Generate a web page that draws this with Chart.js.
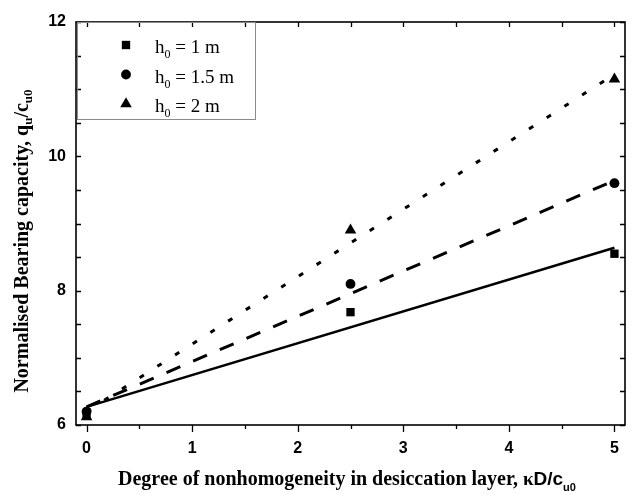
<!DOCTYPE html>
<html>
<head>
<meta charset="utf-8">
<script src="https://cdn.jsdelivr.net/npm/chart.js@4"></script>
<style>html,body{margin:0;padding:0;background:#fff;}canvas{display:block;}</style>
</head>
<body>
<canvas id="chart" width="634" height="500"></canvas>
<script>
// values
const kappa = [0, 2.5, 5];
const h1m = [6.15, 7.68, 8.55];
const h15m = [6.2, 8.1, 9.6];
const h2m = [6.12, 8.9, 11.15];
const fitRange = [0, 5];
const fit1m = [6.27, 8.64];
const fit15m = [6.27, 9.64];
const fit2m = [6.2, 11.22];
const seriesLabels = ['1 m', '1.5 m', '2 m'];
const xTicks = [0, 1, 2, 3, 4, 5];
const yTicks = [6, 8, 10, 12];

const serif = '"Liberation Serif", "Times New Roman", serif';
const sans = '"Liberation Sans", Arial, sans-serif';
const markers = ['rect', 'circle', 'triangle'];
const markerRadius = [5.9, 4.9, 6.7];
const pts = (xs, ys) => xs.map((x, i) => ({x, y: ys[i]}));

function drawMarker(ctx, style, r, x, y) {
    ctx.beginPath();
    if (style === 'rect') {
        const s = r / Math.SQRT2;
        ctx.rect(x - s, y - s, 2 * s, 2 * s);
    } else if (style === 'circle') {
        ctx.arc(x, y, r, 0, Math.PI * 2);
    } else {
        ctx.moveTo(x, y - r);
        ctx.lineTo(x + r * 0.866, y + r / 2);
        ctx.lineTo(x - r * 0.866, y + r / 2);
        ctx.closePath();
    }
    ctx.fill();
}

// draws text runs (with subscripts) centred on x
function drawRich(ctx, parts, x, y) {
    let total = 0;
    parts.forEach(p => { ctx.font = p.font; total += ctx.measureText(p.text).width; });
    let cx = x - total / 2;
    parts.forEach(p => {
        ctx.font = p.font;
        ctx.fillText(p.text, cx, y + (p.dy || 0));
        cx += ctx.measureText(p.text).width;
    });
}

const framePlugin = {
    id: 'frame',
    afterDraw(chart) {
        const {ctx, chartArea: a} = chart;
        const x = chart.scales.x, y = chart.scales.y;
        ctx.save();
        ctx.strokeStyle = '#000';
        ctx.fillStyle = '#000';

        // ticks: bottom outward, others inward
        ctx.lineWidth = 1.3;
        ctx.beginPath();
        for (let v = 0; v <= 5; v += 0.5) {
            const px = Math.round(x.getPixelForValue(v)) + 0.5;
            const major = v % 1 === 0;
            ctx.moveTo(px, a.bottom); ctx.lineTo(px, a.bottom + (major ? 7 : 4));
            ctx.moveTo(px, a.top); ctx.lineTo(px, a.top + 5);
        }
        for (let v = 6; v <= 12; v += 0.5) {
            const py = Math.round(y.getPixelForValue(v)) + 0.5;
            ctx.moveTo(a.left, py); ctx.lineTo(a.left + 5, py);
            ctx.moveTo(a.right, py); ctx.lineTo(a.right - 5, py);
        }
        ctx.stroke();
        ctx.lineWidth = 1.6;
        ctx.strokeRect(a.left, a.top, a.right - a.left, a.bottom - a.top);

        // legend box
        ctx.strokeStyle = '#8a8a8a';
        ctx.lineWidth = 1;
        ctx.strokeRect(a.left + 1.5, a.top + 0.5, 178, 97);
        ctx.textBaseline = 'alphabetic';
        ctx.textAlign = 'left';
        seriesLabels.forEach((lab, i) => {
            const ry = a.top + 23 + i * 29.5;
            drawMarker(ctx, markers[i], markerRadius[i], a.left + 50, ry);
            let tx = a.left + 79;
            ctx.font = '19px ' + serif;
            ctx.fillText('h', tx, ry + 8);
            tx += ctx.measureText('h').width;
            ctx.font = '12px ' + serif;
            ctx.fillText('0', tx, ry + 13);
            tx += ctx.measureText('0').width;
            ctx.font = '19px ' + serif;
            ctx.fillText(' = ' + lab, tx, ry + 8);
        });

        // axis titles
        const tf = 'bold 20px ' + serif, sf = 'bold 13px ' + serif;
        drawRich(ctx, [
            {text: 'Degree of nonhomogeneity in desiccation layer, ', font: tf},
            {text: '\u03ba', font: 'bold 19px ' + serif},
            {text: 'D/c', font: 'bold 19px ' + sans},
            {text: 'u0', font: 'bold 11px ' + sans, dy: 6}
        ], 347, 485);

        ctx.translate(28, 241);
        ctx.rotate(-Math.PI / 2);
        drawRich(ctx, [
            {text: 'Normalised Bearing capacity, q', font: tf},
            {text: 'u', font: sf, dy: 4},
            {text: '/c', font: tf},
            {text: 'u0', font: sf, dy: 4}
        ], 0, 0);
        ctx.restore();
    }
};

const pointSet = (ys, i) => ({
    type: 'scatter', data: pts(kappa, ys), showLine: false,
    pointStyle: markers[i], pointRadius: markerRadius[i],
    backgroundColor: '#000', borderColor: '#000', borderWidth: 0
});
const fitSet = (ys, dash, w) => ({
    type: 'line', data: pts(fitRange, ys), borderColor: '#000',
    borderWidth: w, borderDash: dash, pointRadius: 0, tension: 0, fill: false
});

new Chart(document.getElementById('chart'), {
    type: 'scatter',
    plugins: [framePlugin],
    data: {
        datasets: [
            fitSet(fit1m, [], 2.5),
            fitSet(fit15m, [15, 14], 3),
            fitSet(fit2m, [5, 16], 3),
            pointSet(h1m, 0),
            pointSet(h15m, 1),
            pointSet(h2m, 2)
        ]
    },
    options: {
        responsive: false,
        animation: false,
        layout: {padding: {left: 0, top: 22, right: 9, bottom: 0}},
        plugins: {legend: {display: false}, tooltip: {enabled: false}},
        scales: {
            x: {
                type: 'linear', min: -0.1, max: 5.1,
                afterBuildTicks: s => { s.ticks = xTicks.map(v => ({value: v})); },
                afterFit: s => { s.height = 75; },
                grid: {display: false, drawTicks: false}, border: {display: false},
                ticks: {padding: 14, color: '#000', font: {family: sans, size: 16, weight: 'bold'}}
            },
            y: {
                type: 'linear', min: 6, max: 12,
                afterBuildTicks: s => { s.ticks = yTicks.map(v => ({value: v})); },
                afterFit: s => { s.width = 76; },
                grid: {display: false, drawTicks: false}, border: {display: false},
                ticks: {padding: 10, color: '#000', font: {family: sans, size: 16, weight: 'bold'}}
            }
        }
    }
});
</script>
</body>
</html>
